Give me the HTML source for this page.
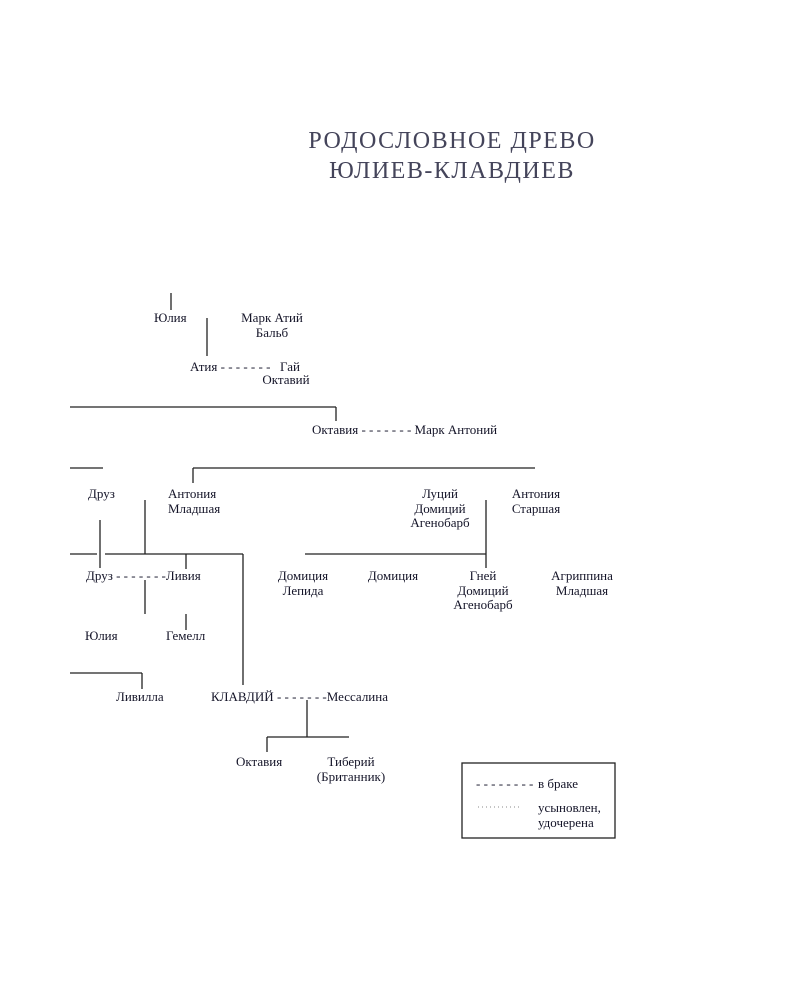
<!DOCTYPE html>
<html><head><meta charset="utf-8"><style>
html,body{margin:0;padding:0;background:#fff;}
svg{display:block}
text{font-family:"Liberation Serif","Noto Serif CJK SC",serif;font-size:13px;fill:#141428;}
.t{font-size:24px;fill:#44445a;letter-spacing:1.5px}
</style></head><body>
<svg width="800" height="1000" viewBox="0 0 800 1000" xmlns="http://www.w3.org/2000/svg">
<text class="t" x="452" y="148" text-anchor="middle">РОДОСЛОВНОЕ ДРЕВО</text>
<text class="t" x="452" y="178" text-anchor="middle">ЮЛИЕВ-КЛАВДИЕВ</text>
<g stroke="#222" stroke-width="1.3" fill="none">
<line x1="171" y1="293" x2="171" y2="310"/>
<line x1="207" y1="318" x2="207" y2="356"/>
<line x1="70" y1="407" x2="336" y2="407"/>
<line x1="336" y1="407" x2="336" y2="421"/>
<line x1="70" y1="468" x2="103" y2="468"/>
<line x1="193" y1="468" x2="535" y2="468"/>
<line x1="193" y1="468" x2="193" y2="483"/>
<line x1="145" y1="500" x2="145" y2="554"/>
<line x1="100" y1="520" x2="100" y2="568"/>
<line x1="486" y1="500" x2="486" y2="568"/>
<line x1="70" y1="554" x2="97" y2="554"/>
<line x1="105" y1="554" x2="243" y2="554"/>
<line x1="243" y1="554" x2="243" y2="685"/>
<line x1="186" y1="554" x2="186" y2="569"/>
<line x1="145" y1="580" x2="145" y2="614"/>
<line x1="186" y1="614" x2="186" y2="630"/>
<line x1="305" y1="554" x2="486" y2="554"/>
<line x1="70" y1="673" x2="142" y2="673"/>
<line x1="142" y1="673" x2="142" y2="689"/>
<line x1="307" y1="700" x2="307" y2="737"/>
<line x1="267" y1="737" x2="349" y2="737"/>
<line x1="267" y1="737" x2="267" y2="752"/>
<rect x="462" y="763" width="153" height="75"/>
</g>
<text x="154" y="322">Юлия</text>
<text x="272" y="322" text-anchor="middle">Марк Атий</text>
<text x="272" y="337" text-anchor="middle">Бальб</text>
<text x="190" y="371">Атия - - - - - - -</text>
<text x="280" y="371">Гай</text>
<text x="286" y="384" text-anchor="middle">Октавий</text>
<text x="312" y="434">Октавия - - - - - - - Марк Антоний</text>
<text x="88" y="498">Друз</text>
<text x="168" y="498">Антония</text>
<text x="168" y="513">Младшая</text>
<text x="440" y="498" text-anchor="middle">Луций</text>
<text x="440" y="513" text-anchor="middle">Домиций</text>
<text x="440" y="527" text-anchor="middle">Агенобарб</text>
<text x="536" y="498" text-anchor="middle">Антония</text>
<text x="536" y="513" text-anchor="middle">Старшая</text>
<text x="86" y="580">Друз - - - - - - -Ливия</text>
<text x="303" y="580" text-anchor="middle">Домиция</text>
<text x="303" y="595" text-anchor="middle">Лепида</text>
<text x="393" y="580" text-anchor="middle">Домиция</text>
<text x="483" y="580" text-anchor="middle">Гней</text>
<text x="483" y="595" text-anchor="middle">Домиций</text>
<text x="483" y="609" text-anchor="middle">Агенобарб</text>
<text x="582" y="580" text-anchor="middle">Агриппина</text>
<text x="582" y="595" text-anchor="middle">Младшая</text>
<text x="85" y="640">Юлия</text>
<text x="166" y="640">Гемелл</text>
<text x="116" y="701">Ливилла</text>
<text x="211" y="701">КЛАВДИЙ - - - - - - -Мессалина</text>
<text x="236" y="766">Октавия</text>
<text x="351" y="766" text-anchor="middle">Тиберий</text>
<text x="351" y="781" text-anchor="middle">(Британник)</text>
<text x="476" y="788">- - - - - - - -</text>
<text x="538" y="788">в браке</text>
<line x1="478" y1="807" x2="520" y2="807" stroke="#888" stroke-width="1" stroke-dasharray="1 3"/>
<text x="538" y="812">усыновлен,</text>
<text x="538" y="827">удочерена</text>
</svg>
</body></html>
